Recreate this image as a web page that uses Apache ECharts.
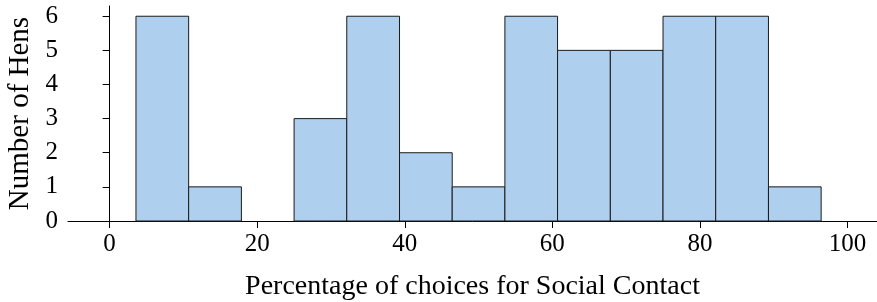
<!DOCTYPE html>
<html>
<head>
<meta charset="utf-8">
<script src="https://cdn.jsdelivr.net/npm/echarts@6/dist/echarts.min.js"></script>
<style>
  html, body { margin: 0; padding: 0; background: #fff; }
  #chart { width: 877px; height: 302px; }
</style>
</head>
<body>
<div id="chart"></div>
<script>
const binEdges = [3.57, 10.71, 17.86, 25, 32.14, 39.29, 46.43, 53.57, 60.71, 67.86, 75, 82.14, 89.29, 96.43]
const counts = [6, 1, 0, 3, 6, 2, 1, 6, 5, 5, 6, 6, 1]
const xTicks = [0, 20, 40, 60, 80, 100]
const yTicks = [0, 1, 2, 3, 4, 5, 6]

const bins = counts.map((c, i) => [binEdges[i], binEdges[i + 1], c])

const font = 'Liberation Serif'
const chart = echarts.init(document.getElementById('chart'))

const option = {
  animation: false,
  grid: { left: 68, right: 0, top: 6, bottom: 81, outerBoundsMode: 'none' },
  xAxis: {
    type: 'value',
    min: -5.64,
    max: 104,
    name: 'Percentage of choices for Social Contact',
    nameLocation: 'middle',
    nameGap: 52,
    nameTextStyle: { fontFamily: font, fontSize: 28, color: '#000' },
    axisLine: { show: true, onZero: false, lineStyle: { color: '#000', width: 1 } },
    axisTick: { show: true, length: 7, customValues: xTicks, lineStyle: { color: '#000' } },
    axisLabel: { customValues: xTicks, fontFamily: font, fontSize: 25, color: '#000', margin: 11 },
    splitLine: { show: false }
  },
  yAxis: {
    type: 'value',
    min: 0,
    max: 6.3,
    name: 'Number of Hens',
    nameLocation: 'middle',
    nameGap: 32,
    nameTextStyle: { fontFamily: font, fontSize: 29, color: '#000' },
    axisLine: { show: true, lineStyle: { color: '#000', width: 1 } },
    axisTick: { show: true, length: 7, customValues: yTicks, lineStyle: { color: '#000' } },
    axisLabel: { customValues: yTicks, fontFamily: font, fontSize: 25, color: '#000', margin: 10 },
    splitLine: { show: false }
  },
  series: [
    {
      type: 'custom',
      data: bins,
      encode: { x: [0, 1], y: 2 },
      renderItem: (params, api) => {
        if (api.value(2) <= 0) return null
        const p0 = api.coord([api.value(0), api.value(2)])
        const p1 = api.coord([api.value(1), 0])
        return {
          type: 'rect',
          shape: { x: p0[0], y: p0[1], width: p1[0] - p0[0], height: p1[1] - p0[1] },
          style: { fill: '#aed0ee', stroke: '#1a1a1a', lineWidth: 1 }
        }
      }
    }
  ]
}

chart.setOption(option)
window.addEventListener('resize', () => chart.resize())
</script>
</body>
</html>
